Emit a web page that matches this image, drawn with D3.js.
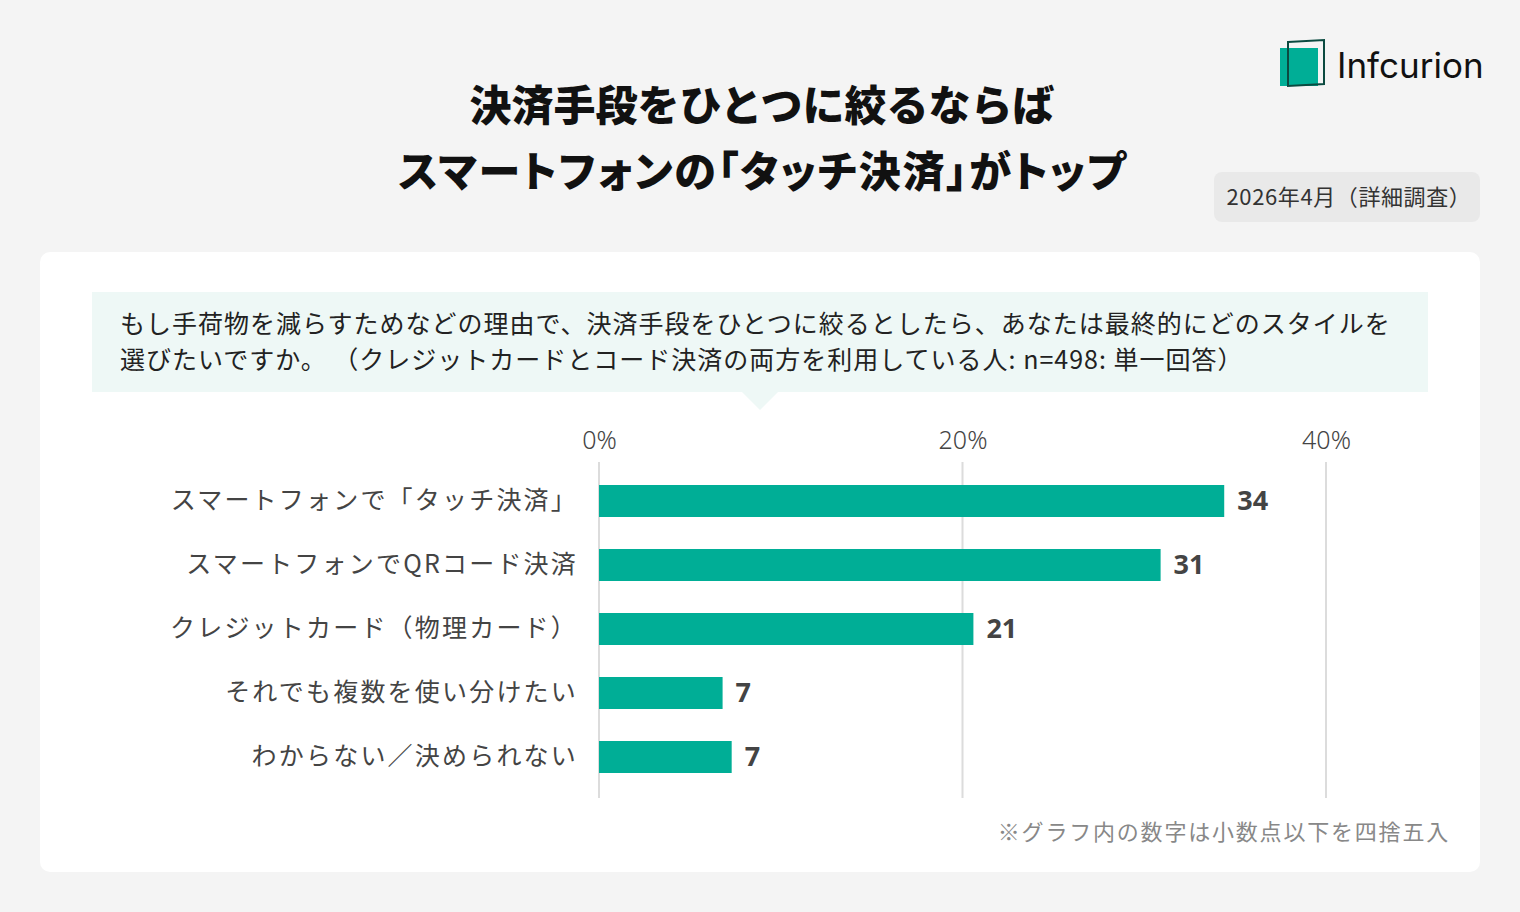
<!DOCTYPE html>
<html lang="ja">
<head>
<meta charset="UTF-8">
<title>決済手段</title>
<script src="https://d3js.org/d3.v7.min.js"></script>
<style>
  body { margin: 0; background: #f4f4f4; font-family: "Noto Sans CJK JP", "Noto Sans", sans-serif; }
  svg { display: block; }
</style>
</head>
<body>
<div id="chart"></div>
<script>
// data
const categories = [
  "スマートフォンで「タッチ決済」",
  "スマートフォンでQRコード決済",
  "クレジットカード（物理カード）",
  "それでも複数を使い分けたい",
  "わからない／決められない"
];
const values = [34.4, 30.9, 20.6, 6.8, 7.3];
const tickValues = [0, 20, 40];
const titleLines = ["決済手段をひとつに絞るならば", "スマートフォンの「タッチ決済」がトップ"];
const questionLines = [
  "もし手荷物を減らすためなどの理由で、決済手段をひとつに絞るとしたら、あなたは最終的にどのスタイルを",
  "選びたいですか。 （クレジットカードとコード決済の両方を利用している人: n=498: 単一回答）"
];

const W = 1520, H = 912;
const teal = "#00ae96";

const svg = d3.select("#chart").append("svg")
  .attr("width", W).attr("height", H);

svg.append("rect").attr("width", W).attr("height", H).attr("fill", "#f4f4f4");

// title
svg.append("g").selectAll("text")
  .data(titleLines)
  .join("text")
  .attr("x", (d, i) => i === 1 ? 763 : 762)
  .attr("y", (d, i) => 121 + i * 66)
  .attr("text-anchor", "middle")
  .attr("font-size", 42)
  .attr("font-weight", 900)
  .attr("fill", "#111")
  .attr("letter-spacing", (d, i) => i === 1 ? 1.8 : 0)
  .style("font-feature-settings", (d, i) => i === 1 ? "'palt'" : "normal")
  .text(d => d);

// logo
const logo = svg.append("g").attr("transform", "translate(1280,40)");
logo.append("rect").attr("x", 0).attr("y", 8).attr("width", 38).attr("height", 38).attr("fill", teal);
logo.append("path")
  .attr("d", "M8,2 L44,0 L44,44 L8,46 Z")
  .attr("fill", "none").attr("stroke", "#0b4a40").attr("stroke-width", 2);
logo.append("text")
  .attr("x", 57).attr("y", 38)
  .attr("font-family", "Inter, 'Noto Sans', sans-serif")
  .attr("font-size", 35)
  .attr("fill", "#111")
  .text("Infcurion");

// date badge
svg.append("rect").attr("x", 1214).attr("y", 172).attr("width", 266).attr("height", 50)
  .attr("rx", 8).attr("fill", "#e9e9e9");
svg.append("text").attr("x", 1349).attr("y", 205)
  .attr("text-anchor", "middle").attr("font-size", 22).attr("fill", "#333")
  .attr("letter-spacing", 0.6)
  .text("2026年4月（詳細調査）");

// card
svg.append("rect").attr("x", 40).attr("y", 252).attr("width", 1440).attr("height", 620)
  .attr("rx", 10).attr("fill", "#fff");

// question box
svg.append("rect").attr("x", 92).attr("y", 292).attr("width", 1336).attr("height", 100)
  .attr("fill", "#eef8f6");
svg.append("path").attr("d", "M742,392 L778,392 L760,410 Z").attr("fill", "#eef8f6");
svg.append("g").selectAll("text")
  .data(questionLines)
  .join("text")
  .attr("x", 120)
  .attr("y", (d, i) => 333 + i * 36)
  .attr("font-size", 25)
  .attr("letter-spacing", 1.0)
  .attr("fill", "#222")
  .attr("xml:space", "preserve")
  .text(d => d);

// chart
const x = d3.scaleLinear().domain([0, 40]).range([599, 1326]);
const y = d3.scaleBand().domain(categories).range([469, 789]).paddingInner(0.5).paddingOuter(0.25);

const grid = svg.append("g");
grid.selectAll("line")
  .data(tickValues)
  .join("line")
  .attr("x1", d => x(d)).attr("x2", d => x(d))
  .attr("y1", 462).attr("y2", 798)
  .attr("stroke", "#dcdcdc").attr("stroke-width", 2);

const axis = svg.append("g")
  .attr("transform", "translate(0,449)")
  .call(d3.axisTop(x).tickValues(tickValues).tickFormat(d => d + "%").tickSize(0).tickPadding(0));
axis.select(".domain").remove();
axis.selectAll("text")
  .attr("font-size", 25)
  .attr("font-family", "'Noto Sans', sans-serif")
  .attr("font-weight", 300)
  .attr("fill", "#444");

svg.append("g").selectAll("rect")
  .data(values)
  .join("rect")
  .attr("x", x(0))
  .attr("y", (d, i) => y(categories[i]))
  .attr("width", d => x(d) - x(0))
  .attr("height", y.bandwidth())
  .attr("fill", teal);

svg.append("g").selectAll("text")
  .data(values)
  .join("text")
  .attr("x", d => x(d) + 13)
  .attr("y", (d, i) => y(categories[i]) + y.bandwidth() / 2)
  .attr("dy", "0.35em")
  .attr("font-size", 27)
  .attr("font-weight", 700)
  .attr("font-family", "'Noto Sans', sans-serif")
  .attr("fill", "#444")
  .text(d => Math.round(d));

const yAxis = svg.append("g")
  .attr("transform", "translate(578,0)")
  .call(d3.axisLeft(y).tickSize(0).tickPadding(0));
yAxis.select(".domain").remove();
yAxis.selectAll("text")
  .attr("font-size", 25)
  .attr("letter-spacing", 2.2)
  .attr("font-family", "'Noto Sans CJK JP', sans-serif")
  .attr("fill", "#444");

// footnote
svg.append("text").attr("x", 1450).attr("y", 840)
  .attr("text-anchor", "end").attr("font-size", 22).attr("fill", "#888")
  .attr("letter-spacing", 1.8)
  .text("※グラフ内の数字は小数点以下を四捨五入");
</script>
</body>
</html>
